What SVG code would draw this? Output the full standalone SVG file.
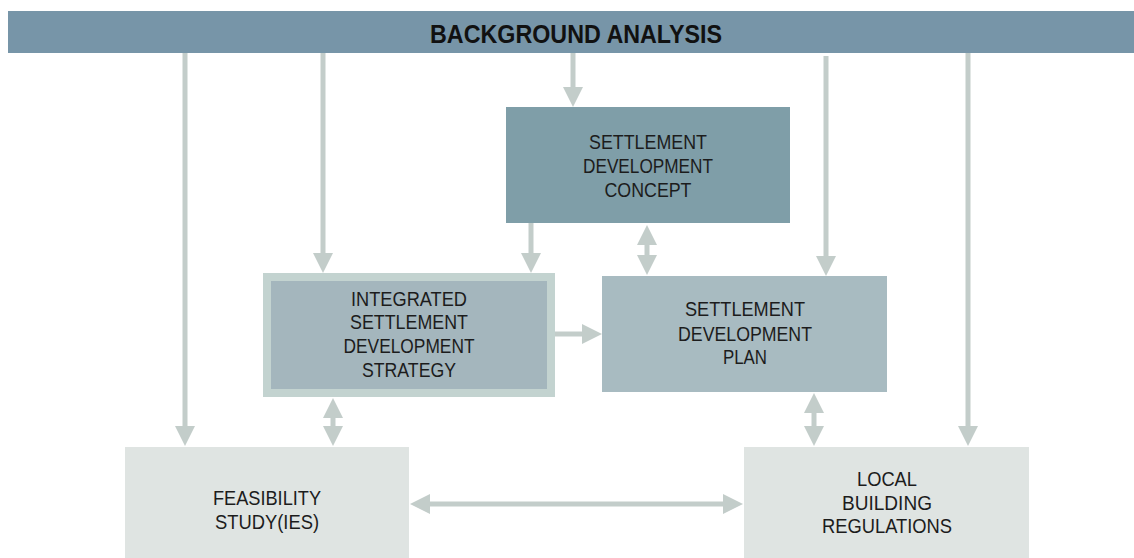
<svg xmlns="http://www.w3.org/2000/svg" width="1134" height="558" viewBox="0 0 1134 558">
<style>
.t{font-family:"Liberation Sans",Arial,sans-serif;font-size:21px;fill:#1c1c1c;text-anchor:middle}
.h{font-family:"Liberation Sans",Arial,sans-serif;font-size:25px;font-weight:bold;fill:#111;text-anchor:middle}
.c{stroke:#c3cdca;stroke-width:5;fill:none}
</style>
<defs>
<marker id="ah" markerUnits="userSpaceOnUse" markerWidth="20" markerHeight="20" viewBox="0 0 20 20" refX="2" refY="10" orient="auto-start-reverse">
<path d="M0,0 L20,10 L0,20 z" fill="#c3cdca"/>
</marker>
</defs>
<rect width="1134" height="558" fill="#ffffff"/>
<g id="background-analysis">
<rect x="8" y="11" width="1126" height="42" fill="#7795a8"/>
<text class="h" x="576" y="43" textLength="292" lengthAdjust="spacingAndGlyphs">BACKGROUND ANALYSIS</text>
</g>
<g id="connectors">
<line class="c" x1="185" y1="53" x2="185" y2="428" marker-end="url(#ah)"/>
<line class="c" x1="323" y1="53" x2="323" y2="255" marker-end="url(#ah)"/>
<line class="c" x1="573" y1="53" x2="573" y2="89" marker-end="url(#ah)"/>
<line class="c" x1="826" y1="56" x2="826" y2="258" marker-end="url(#ah)"/>
<line class="c" x1="968" y1="53" x2="968" y2="428" marker-end="url(#ah)"/>
<line class="c" x1="531" y1="223" x2="531" y2="255" marker-end="url(#ah)"/>
<line class="c" x1="647" y1="243" x2="647" y2="257" marker-start="url(#ah)" marker-end="url(#ah)"/>
<line class="c" x1="555" y1="334" x2="584" y2="334" marker-end="url(#ah)"/>
<line class="c" x1="333" y1="416" x2="333" y2="428" marker-start="url(#ah)" marker-end="url(#ah)"/>
<line class="c" x1="814" y1="411" x2="814" y2="428" marker-start="url(#ah)" marker-end="url(#ah)"/>
<line class="c" x1="428" y1="504" x2="725" y2="504" marker-start="url(#ah)" marker-end="url(#ah)"/>
</g>
<g id="concept">
<rect x="506" y="107" width="284" height="116" fill="#7f9ea8"/>
<text class="t" x="648" y="149" textLength="118" lengthAdjust="spacingAndGlyphs">SETTLEMENT</text>
<text class="t" x="648" y="173" textLength="130" lengthAdjust="spacingAndGlyphs">DEVELOPMENT</text>
<text class="t" x="648" y="197" textLength="87" lengthAdjust="spacingAndGlyphs">CONCEPT</text>
</g>
<g id="strategy">
<rect x="263" y="273" width="292" height="124" fill="#c3d3d0"/>
<rect x="271" y="281" width="276" height="108" fill="#a4b6bd"/>
<text class="t" x="409" y="306" textLength="116" lengthAdjust="spacingAndGlyphs">INTEGRATED</text>
<text class="t" x="409" y="329" textLength="118" lengthAdjust="spacingAndGlyphs">SETTLEMENT</text>
<text class="t" x="409" y="353" textLength="131" lengthAdjust="spacingAndGlyphs">DEVELOPMENT</text>
<text class="t" x="409" y="377" textLength="94" lengthAdjust="spacingAndGlyphs">STRATEGY</text>
</g>
<g id="plan">
<rect x="602" y="276" width="285" height="116" fill="#a8bbc1"/>
<text class="t" x="745" y="316" textLength="120" lengthAdjust="spacingAndGlyphs">SETTLEMENT</text>
<text class="t" x="745" y="341" textLength="134" lengthAdjust="spacingAndGlyphs">DEVELOPMENT</text>
<text class="t" x="745" y="364" textLength="44" lengthAdjust="spacingAndGlyphs">PLAN</text>
</g>
<g id="feasibility">
<rect x="125" y="447" width="284" height="111" fill="#dfe4e2"/>
<text class="t" x="267" y="505" textLength="108" lengthAdjust="spacingAndGlyphs">FEASIBILITY</text>
<text class="t" x="267" y="529" textLength="104" lengthAdjust="spacingAndGlyphs">STUDY(IES)</text>
</g>
<g id="local">
<rect x="744" y="447" width="285" height="111" fill="#dfe4e2"/>
<text class="t" x="887" y="486" textLength="60" lengthAdjust="spacingAndGlyphs">LOCAL</text>
<text class="t" x="887" y="510" textLength="90" lengthAdjust="spacingAndGlyphs">BUILDING</text>
<text class="t" x="887" y="533" textLength="130" lengthAdjust="spacingAndGlyphs">REGULATIONS</text>
</g>
</svg>
